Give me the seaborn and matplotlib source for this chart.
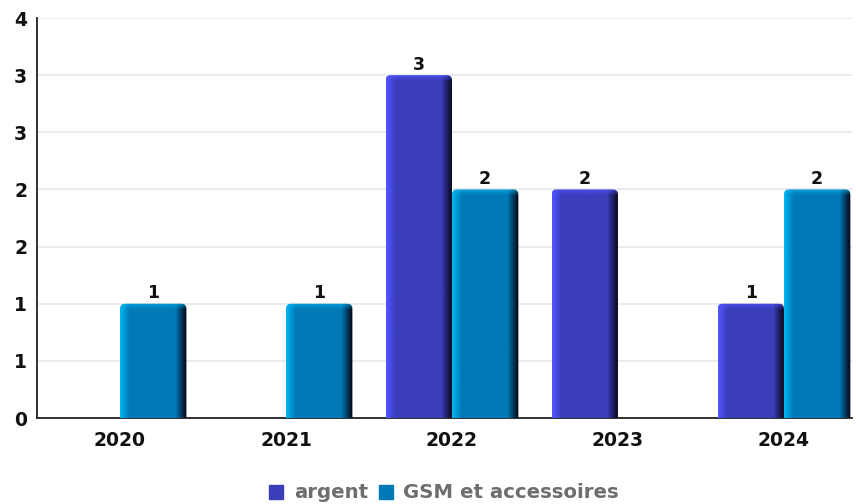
import numpy as np
import pandas as pd
import matplotlib
matplotlib.use("Agg")
import matplotlib.pyplot as plt
import seaborn as sns
from matplotlib.patches import FancyBboxPatch
from matplotlib.ticker import MultipleLocator, FuncFormatter

# data
years = ["2020", "2021", "2022", "2023", "2024"]
argent = [0, 0, 3, 2, 1]
gsm = [1, 1, 2, 0, 2]
series = ["argent", "GSM et accessoires"]
colors = ["#3a3eb9", "#0079b6"]
light = ["#5055ff", "#00b4f0"]

df = pd.DataFrame({
    "year": years * 2,
    "value": argent + gsm,
    "serie": [series[0]] * len(years) + [series[1]] * len(years),
})

sns.set_style("white")
plt.rcParams["font.family"] = ["DejaVu Sans"]
plt.rcParams["font.weight"] = "bold"
plt.rcParams["text.color"] = "#111111"
plt.rcParams["xtick.color"] = "#111111"
plt.rcParams["ytick.color"] = "#111111"

fig = plt.figure(figsize=(8.56, 5.04), dpi=100)
ax = fig.add_axes([37 / 856, 86 / 504, 815 / 856, 400 / 504])

sns.barplot(data=df, x="year", y="value", hue="serie", palette=colors,
            width=0.8, legend=False, ax=ax, zorder=2)

ax.set_xlim(-0.5, 4.41)
ax.set_ylim(0, 3.5)
ax.yaxis.set_major_locator(MultipleLocator(0.5))
ax.yaxis.set_major_formatter(FuncFormatter(lambda v, p: f"{int(np.floor(v + 0.5))}"))
ax.set_xlabel("")
ax.set_ylabel("")
ax.grid(axis="y", color="#e8e8e8", linewidth=1.2, zorder=0)
ax.set_axisbelow(True)
for s in ["top", "right"]:
    ax.spines[s].set_visible(False)
for s in ["left", "bottom"]:
    ax.spines[s].set_color("#222222")
    ax.spines[s].set_linewidth(1.3)

ax.tick_params(axis="y", length=5, width=1.2, color="#222222", labelsize=13.5,
               labelcolor="#111111", pad=2)
ax.tick_params(axis="x", which="major", length=0, labelsize=13.5,
               labelcolor="#111111", pad=9)
ax.set_xticks(np.arange(0.5, 4.5, 1), minor=True)
ax.tick_params(axis="x", which="minor", length=5, width=1.2, color="#222222")

# px -> data scale for the pseudo-3d bars
px_x = 166.0
px_y = 400 / 3.5

for ci, cont in enumerate(ax.containers):
    base = np.array(matplotlib.colors.to_rgb(colors[ci]))
    hi = np.array(matplotlib.colors.to_rgb(light[ci]))
    for bar in cont:
        h = bar.get_height()
        bar.set_facecolor("none")
        bar.set_edgecolor("none")
        if h <= 0:
            continue
        x0 = bar.get_x()
        w = bar.get_width()
        nx = int(w * px_x)
        ny = int(h * px_y)
        t = np.arange(nx)
        # horizontal profile: light left edge, base, dark right edge
        img = np.tile(base, (ny, nx, 1))
        left = np.clip(1 - t / 9.0, 0, 1)[:, None]
        right = np.clip((t - (nx - 12)) / 11.0, 0, 1)[:, None]
        row = base * (1 - left) + hi * left
        row = row * (1 - right) + np.array([0.02, 0.02, 0.08]) * right
        img[:] = row
        # lighter top band
        top = np.clip(1 - np.arange(ny) / 6.0, 0, 1)[:, None, None]
        img = img * (1 - 0.6 * top) + hi * 0.6 * top
        im = ax.imshow(img, extent=[x0, x0 + w, 0, h], origin="upper",
                       aspect="auto", zorder=3, interpolation="bilinear")
        clip = FancyBboxPatch((x0, -0.2), w, h + 0.2,
                              boxstyle="round,pad=0,rounding_size=0.03",
                              mutation_aspect=px_x / px_y,
                              transform=ax.transData, facecolor="none",
                              edgecolor="none")
        ax.add_patch(clip)
        im.set_clip_path(clip)
    labels = [f"{b.get_height():.0f}" if b.get_height() > 0 else "" for b in cont]
    ax.bar_label(cont, labels=labels, padding=1, fontsize=12.5,
                 fontweight="bold", color="#111111", zorder=4)

ax.set_xlim(-0.5, 4.41)
ax.set_ylim(0, 3.5)

handles = [plt.Line2D([], [], marker="s", linestyle="", markersize=10,
                      color=c) for c in colors]
fig.legend(handles, series, loc="center", bbox_to_anchor=(443.5 / 856, 11 / 504),
           ncol=2, frameon=False, fontsize=14.2, handlelength=0.8,
           handletextpad=0.5, columnspacing=0.5, labelcolor="#6e6e6e")

fig.savefig("out.png", dpi=100)
